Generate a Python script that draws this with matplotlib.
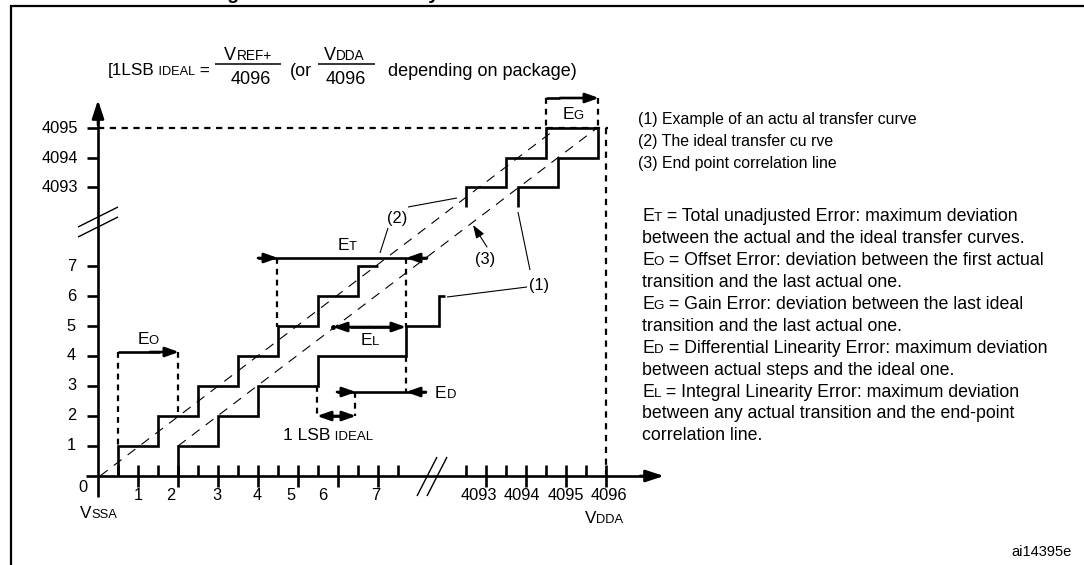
import matplotlib
matplotlib.use("Agg")
import matplotlib.pyplot as plt

plt.rcParams['lines.scale_dashes'] = False
plt.rcParams['font.family'] = ['Liberation Sans', 'DejaVu Sans']

# ---------------- data (diagram units: 1 LSB on x, 1 code on y) ----------------
# lower part of the axes
x_major_ticks = [1, 2, 3, 4, 5, 6, 7]
x_minor_ticks = [0.5, 1.5, 2.5, 3.5, 4.5, 5.5, 6.5, 7.5]
x_label_pos = [1.0, 1.83, 2.97, 3.97, 4.83, 5.63, 6.95]
x_labels = ['1', '2', '3', '4', '5', '6', '7']
y_ticks = [1, 2, 3, 4, 5, 6, 7]
y_labels = ['1', '2', '3', '4', '5', '6', '7']
# upper part of the axes (after the breaks)
x_up_major = [9.7, 10.7, 11.7, 12.7]
x_up_minor = [9.2, 10.2, 11.2, 12.2]
x_up_label_pos = [9.53, 10.6, 11.7, 12.77]
x_up_labels = ['4093', '4094', '4095', '4096']
y_up_ticks = [9.63, 10.6, 11.6]
y_up_labels = ['4093', '4094', '4095']

# ideal staircase (2): transitions and code levels
ideal_low_trans = [0.5, 1.5, 2.5, 3.5, 4.5, 5.5, 6.5]
ideal_low_codes = [1, 2, 3, 4, 5, 6, 7]
ideal_low_end = 7.0
ideal_up_trans = [9.2, 10.2, 11.2]
ideal_up_codes = [9.63, 10.6, 11.6]
ideal_up_end = 12.5
# actual transfer curve (1)
actual_low_trans = [2.0, 3.0, 4.0, 5.5, 7.7, 8.525]
actual_low_codes = [1, 2, 3, 4, 5, 6]
actual_low_end = 8.675
actual_up_trans = [10.5, 11.5, 12.5]
actual_up_codes = [9.63, 10.6, 11.6]
actual_up_end = 12.5
up_start_level = 8.97
# dashed straight lines: ideal line and end-point correlation line (3)
ideal_line_x = [0.05, 11.475]
ideal_line_y = [0.0, 11.6]
endpoint_line_x = [2.0, 12.475]
endpoint_line_y = [1.0, 11.6]

# ---------------- figure / coordinate system ----------------
W, H = 1084, 565
PXX, PXY, OX, OY = 40.0, 30.0, 98.0, 476.0
fig = plt.figure(figsize=(W / 100, H / 100), dpi=100)
ax = fig.add_axes([0, 0, 1, 1])
ax.set_xlim(-OX / PXX, (W - OX) / PXX)
ax.set_ylim((OY - H) / PXY, OY / PXY)
ax.axis('off')
R = fig.canvas.get_renderer()

def P(x, y):
    """pixel position of the layout -> diagram units"""
    return ((x - OX) / PXX, (OY - y) / PXY)

def dx(px):
    return px / PXX

def dy(px):
    return px / PXY

K = 'black'
LW = 1.9
THIN = 0.8

def seg(p, q, lw=LW, dashes=None, **kw):
    l, = ax.plot([p[0], q[0]], [p[1], q[1]], color=K, lw=lw, solid_capstyle='butt', **kw)
    if dashes:
        l.set_dashes(dashes)
    return l

def arrow(tail, tip, lw=LW, hl=0.9, hw=0.32, ms=9):
    ax.annotate('', xy=tip, xytext=tail,
                arrowprops=dict(arrowstyle='-|>,head_length=%g,head_width=%g' % (hl, hw),
                                color=K, lw=lw, shrinkA=0, shrinkB=0, mutation_scale=ms))

def runs(x, yc, parts, size=12, small=8.5, ha='left', family=None, weight='normal'):
    base = yc + 0.36 * size * 100 / 72
    arts, ws = [], []
    for s, sm in parts:
        kw = {}
        if family:
            kw['family'] = family
        t = ax.text(0, 0, s, fontsize=small if sm else size, va='baseline', ha='left',
                    weight=weight, **kw)
        ws.append(t.get_window_extent(R).width)
        arts.append(t)
    tot = sum(ws)
    x0 = x - tot / 2 if ha == 'center' else (x - tot if ha == 'right' else x)
    for t, w in zip(arts, ws):
        t.set_position(P(x0, base))
        x0 += w

def steps(trans, codes, end, start=0.0):
    xs, ys = [trans[0]], [start]
    for i, (t, c) in enumerate(zip(trans, codes)):
        nxt = trans[i + 1] if i + 1 < len(trans) else end
        xs += [t, nxt]
        ys += [c, c]
    ax.plot(xs, ys, color=K, lw=LW, solid_joinstyle='miter', solid_capstyle='butt')

# ---------------- frame and title ----------------
ax.plot([P(11, 0)[0], P(11, 6)[0], P(W, 6)[0]], [P(11, H)[1], P(11, 6)[1], P(W, 6)[1]],
        color=K, lw=1.6, solid_joinstyle='miter')
ax.text(*P(210, -1.5), 'Figure 38. ADC accuracy characteristics', fontsize=14,
        weight='bold', va='baseline', ha='left')

# ---------------- axes ----------------
seg(P(86, OY), P(652, OY))
arrow(P(640, OY), P(664, OY), ms=10, hl=1.1, hw=0.36)
seg(P(OX, 497), P(OX, 112))
arrow(P(OX, 125), P(OX, 100), ms=10, hl=1.1, hw=0.36)
for xt in x_major_ticks + x_up_major:
    seg((xt, dy(11)), (xt, -dy(11)))
for xt in x_minor_ticks + x_up_minor:
    seg((xt, dy(11)), (xt, 0))
for yt in y_ticks + y_up_ticks:
    seg((-dx(11), yt), (0, yt))
TK = 11.8
for xp, lab in zip(x_label_pos, x_labels):
    ax.text(xp, -dy(19), lab, fontsize=TK, ha='center', va='center')
for xp, lab in zip(x_up_label_pos, x_up_labels):
    ax.text(xp, -dy(20), lab, fontsize=TK, ha='center', va='center')
for yt, lab in zip(y_ticks, y_labels):
    ax.text(-dx(22), yt, lab, fontsize=TK, ha='right', va='center')
for yt, lab in zip(y_up_ticks, y_up_labels):
    ax.text(-dx(20), yt, lab, fontsize=TK, ha='right', va='center')
ax.text(*P(83, 488), '0', fontsize=TK, ha='center', va='center')
runs(80, 512, [('V', False), ('SSA', True)], size=12.3, small=9.3)
runs(585, 517, [('V', False), ('DDA', True)], size=12.3, small=9.3)

# axis breaks
seg(P(78, 227), P(118, 207), lw=1.0)
seg(P(78, 237), P(118, 217), lw=1.0)
seg(P(417, 496), P(437, 457), lw=1.0)
seg(P(427, 496), P(447, 457), lw=1.0)

# ---------------- curves ----------------
steps(ideal_low_trans, ideal_low_codes, ideal_low_end)
steps(ideal_up_trans, ideal_up_codes, ideal_up_end, start=up_start_level)
steps(actual_low_trans, actual_low_codes, actual_low_end)
steps(actual_up_trans, actual_up_codes, actual_up_end, start=up_start_level)
for xs, ys in [(ideal_line_x, ideal_line_y), (endpoint_line_x, endpoint_line_y)]:
    l, = ax.plot(xs, ys, color=K, lw=THIN)
    l.set_dashes([7, 5.5])

# top dashed limits
THD = [4.5, 4.0]
seg(P(OX, 128), P(608, 128), lw=1.6, dashes=THD)
seg(P(606, 128), P(606, 474), lw=1.6, dashes=THD)

# ---------------- error annotations ----------------
VD = [4.2, 3.6]
ES, ESS = 12.5, 9.4
# EG
seg(P(546, 98), P(546, 128), lw=1.6, dashes=VD)
seg(P(598, 98), P(598, 128), lw=1.6, dashes=VD)
seg(P(546, 98), P(560, 98))
arrow(P(560, 98), P(599, 98))
runs(573, 113, [('E', False), ('G', True)], size=ES, small=ESS, ha='center')
# ET
seg(P(258, 258), P(427, 258))
arrow(P(258, 258), P(278, 258))
arrow(P(427, 258), P(406, 258))
seg(P(277, 258), P(277, 327), lw=1.6, dashes=VD)
seg(P(406, 258), P(406, 327), lw=1.6, dashes=VD)
runs(347, 244, [('E', False), ('T', True)], size=ES, small=ESS, ha='center')
# EL
seg(P(350, 327), P(390, 327))
arrow(P(370, 327), P(333, 327))
arrow(P(370, 327), P(406, 327))
ax.plot(*P(333, 327), 'o', color=K, ms=2.5)
runs(370, 339, [('E', False), ('L', True)], size=ES, small=ESS, ha='center')
# EO
seg(P(118, 352), P(160, 352))
arrow(P(150, 352), P(179, 352))
seg(P(118, 352), P(118, 446), lw=1.6, dashes=VD)
seg(P(178, 352), P(178, 416), lw=1.6, dashes=VD)
runs(148, 338, [('E', False), ('O', True)], size=ES, small=ESS, ha='center')
# ED
seg(P(337, 392), P(426, 392))
arrow(P(337, 392), P(356, 392))
arrow(P(426, 392), P(406, 392))
seg(P(406, 356), P(406, 392), lw=1.6, dashes=VD)
seg(P(355, 392), P(355, 416), lw=1.6, dashes=VD)
seg(P(317, 386), P(317, 416), lw=1.6, dashes=VD)
runs(435, 392, [('E', False), ('D', True)], size=ES, small=ESS)
# 1 LSB ideal
seg(P(325, 416), P(345, 416))
arrow(P(336, 416), P(317, 416))
arrow(P(336, 416), P(356, 416))
runs(328, 434, [('1 LSB', False), (' IDEAL', True)], size=12.6, small=9.5, ha='center')

# ---------------- callouts ----------------
seg(P(530, 270), P(518, 212), lw=THIN)
seg(P(527, 287), P(447, 297), lw=THIN)
ax.text(*P(539, 285), '(1)', fontsize=TK, ha='center', va='center')
seg(P(388, 228), P(380, 253), lw=THIN)
seg(P(408, 207), P(457, 198), lw=THIN)
ax.text(*P(397, 218), '(2)', fontsize=TK, ha='center', va='center')
arrow(P(487, 247), P(473, 225), lw=THIN, hl=1.0, hw=0.35, ms=8)
ax.text(*P(485, 259), '(3)', fontsize=TK, ha='center', va='center')

# ---------------- formula ----------------
FS, FSS = 13, 9.8
runs(108, 69, [('[1LSB', False), (' IDEAL', True), (' =', False)], size=12.3, small=9.2)
runs(248, 53, [('V', False), ('REF+', True)], size=FS, small=FSS, ha='center')
seg(P(215, 64), P(281, 64), lw=1.1)
runs(251, 77, [('4096', False)], size=FS, ha='center')
runs(290, 69, [('(or', False)], size=FS)
runs(344, 53, [('V', False), ('DDA', True)], size=FS, small=FSS, ha='center')
seg(P(318, 64), P(375, 64), lw=1.1)
runs(346, 77, [('4096', False)], size=FS, ha='center')
runs(388, 69, [('depending on package)', False)], size=FS)

# ---------------- legend texts ----------------
legend_lines = ['(1) Example of an actu al transfer curve',
                '(2) The ideal transfer cu rve',
                '(3) End point correlation line']
for i, s in enumerate(legend_lines):
    runs(638, 118 + 22 * i, [(s, False)], size=11.4)

defs = [
    [('E', False), ('T', True), (' = Total unadjusted Error: maximum deviation', False)],
    [('between the actual and the ideal transfer curves.', False)],
    [('E', False), ('O', True), (' = Offset Error: deviation between the first actual', False)],
    [('transition and the last actual one.', False)],
    [('E', False), ('G', True), (' = Gain Error: deviation between the last ideal', False)],
    [('transition and the last actual one.', False)],
    [('E', False), ('D', True), (' = Differential Linearity Error: maximum deviation', False)],
    [('between actual steps and the ideal one.', False)],
    [('E', False), ('L', True), (' = Integral Linearity Error: maximum deviation', False)],
    [('between any actual transition and the end-point', False)],
    [('correlation line.', False)],
]
for i, parts in enumerate(defs):
    runs(642, 215 + 21.9 * i, parts, size=12.8, small=9.6)

ax.text(*P(1072, 552), 'ai14395e', fontsize=10.5, ha='right', va='center')

fig.savefig('out.png', dpi=100)
